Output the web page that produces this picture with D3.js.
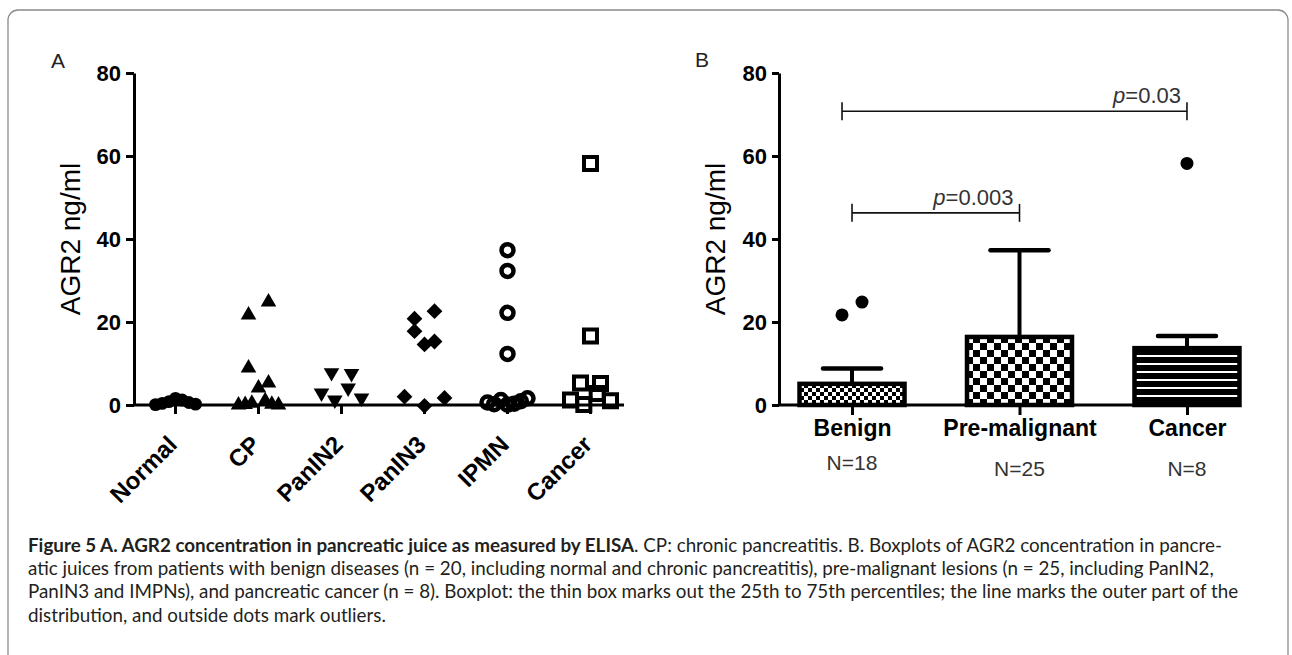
<!DOCTYPE html>
<html>
<head>
<meta charset="utf-8">
<script src="https://cdn.jsdelivr.net/npm/d3@7"></script>
<style>
  body { margin: 0; background: #fff; }
  svg text { font-family: "Liberation Sans", Arial, sans-serif; }
  .axis path, .axis line { stroke: #000; stroke-width: 3; }
  .axis text { fill: #000; font-weight: bold; }
</style>
</head>
<body>
<svg id="fig" width="1292" height="655"></svg>
<script>
// ---- panel A: individual values per group (listed in the order they sit, left to right)
const groupsA = ["Normal", "CP", "PanIN2", "PanIN3", "IPMN", "Cancer"];
const normalVals = [0.1, 0.4, 0.8, 1.6, 1.2, 0.6, 0.2];
const cpVals = [21.7, 24.8, 8.9, 5.3, 0, 0.1, 0.4, 4.1, 1.0, 0.2, 0];
const panin2Vals = [7.8, 7.6, 2.9, 1.2, 4.1, 1.7];
const panin3Vals = [20.8, 22.6, 17.8, 15.3, 14.6, 2.0, -0.2, 1.7];
const ipmnVals = [37.3, 32.3, 22.2, 12.3, 0.6, 0.2, 1.2, 0.1, 0.3, 0.9, 1.6];
const cancerVals = [58.2, 16.6, 5.3, 5.2, 1.2, 0.1, 2.8, 1.0];
const valuesA = [normalVals, cpVals, panin2Vals, panin3Vals, ipmnVals, cancerVals];

// ---- panel B: box summaries
const groupsB = ["Benign", "Pre-malignant", "Cancer"];
const boxLow = [0, 0, 0];
const boxHigh = [5.1, 16.4, 13.7];
const whiskerHigh = [8.8, 37.3, 16.6];
const outliersB = [[21.7, 24.8], [], [58.2]];
const nLabels = ["N=18", "N=25", "N=8"];
const bracketFrom = ["Benign", "Benign"];
const bracketTo = ["Pre-malignant", "Cancer"];
const bracketY = [46.3, 70.8];
const bracketP = ["=0.003", "=0.03"];

const yTicks = [0, 20, 40, 60, 80];

const svg = d3.select("#fig");

// frame
svg.append("rect")
  .attr("x", 8).attr("y", 10)
  .attr("width", 1280).attr("height", 720)
  .attr("rx", 10)
  .attr("fill", "none")
  .attr("stroke", "#8a8a8a")
  .attr("stroke-width", 1.3);

// fill patterns for the boxes
const defs = svg.append("defs");
function checker(id, cell) {
  const p = defs.append("pattern").attr("id", id)
    .attr("patternUnits", "userSpaceOnUse")
    .attr("width", cell * 2).attr("height", cell * 2);
  p.append("rect").attr("width", cell * 2).attr("height", cell * 2).attr("fill", "#000");
  p.append("rect").attr("width", cell).attr("height", cell).attr("fill", "#fff");
  p.append("rect").attr("x", cell).attr("y", cell).attr("width", cell).attr("height", cell).attr("fill", "#fff");
}
checker("pat0", 4);
checker("pat1", 7);
const stripes = defs.append("pattern").attr("id", "pat2")
  .attr("patternUnits", "userSpaceOnUse").attr("width", 8).attr("height", 8);
stripes.append("rect").attr("width", 8).attr("height", 8).attr("fill", "#000");
stripes.append("rect").attr("y", 3).attr("width", 8).attr("height", 2).attr("fill", "#fff");

const y = d3.scaleLinear().domain([0, 80]).range([405, 73]);

function yTitle(x) {
  svg.append("text")
    .attr("transform", `translate(${x},239) rotate(-90)`)
    .attr("text-anchor", "middle")
    .attr("font-size", 28)
    .text("AGR2 ng/ml");
}

// column scatter layout: values binned into rows, each row spread sideways
function spread(vals, binSize, gap, maxWidth) {
  const rows = d3.group(vals, v => Math.floor(Math.max(0, v) / binSize));
  const out = [];
  rows.forEach(row => {
    const n = row.length;
    const s = n > 1 ? Math.min(gap, maxWidth / (n - 1)) : 0;
    row.forEach((v, j) => out.push({ v, dx: (j - (n - 1) / 2) * s, py: y(v) }));
  });
  return out;
}

// ================= panel A =================
const xA = d3.scaleBand().domain(groupsA).range([134, 632]);
const gA = svg.append("g");

svg.append("text").attr("x", 51).attr("y", 68)
  .attr("font-size", 21).attr("fill", "#222").text("A");

const axA = gA.append("g").attr("class", "axis")
  .attr("transform", "translate(0,405)")
  .call(d3.axisBottom(xA).tickSize(9).tickSizeOuter(0));
axA.select(".domain").attr("d", "M134,0H624");
axA.selectAll("text")
  .attr("font-size", 24)
  .attr("text-anchor", "end")
  .attr("x", 3).attr("y", 41).attr("dy", 0)
  .attr("transform", "rotate(-45,3,41)");

gA.append("g").attr("class", "axis")
  .attr("transform", "translate(134,0)")
  .call(d3.axisLeft(y).tickValues(yTicks).tickSize(8).tickPadding(5).tickSizeOuter(0))
  .selectAll("text").attr("font-size", 22);
yTitle(80);

const sym = [
  { type: d3.symbolCircle, size: 130, fill: "#000", stroke: "none", rot: 0 },
  { type: d3.symbolTriangle, size: 105, fill: "#000", stroke: "none", rot: 0 },
  { type: d3.symbolTriangle, size: 105, fill: "#000", stroke: "none", rot: 180 },
  { type: d3.symbolSquare, size: 125, fill: "#000", stroke: "none", rot: 45 },
  { type: d3.symbolCircle, size: 113, fill: "none", stroke: "#000", rot: 0, sw: 4.5 },
  { type: d3.symbolSquare, size: 169, fill: "none", stroke: "#000", rot: 0, sw: 4 }
];

valuesA.forEach((vals, i) => {
  const cx = xA(groupsA[i]) + xA.bandwidth() / 2;
  const s = sym[i];
  gA.append("g").selectAll("path")
    .data(spread(vals, 5, 20, 40))
    .join("path")
    .attr("d", d3.symbol().type(s.type).size(s.size))
    .attr("transform", d => `translate(${cx + d.dx},${d.py}) rotate(${s.rot})`)
    .attr("fill", s.fill)
    .attr("stroke", s.stroke)
    .attr("stroke-width", s.sw || 0);
});

// ================= panel B =================
const xB = d3.scalePoint().domain(groupsB).range([779, 1260]).padding(0.436);
const gB = svg.append("g");

svg.append("text").attr("x", 695).attr("y", 67)
  .attr("font-size", 21).attr("fill", "#222").text("B");

const axB = gB.append("g").attr("class", "axis")
  .attr("transform", "translate(0,405)")
  .call(d3.axisBottom(xB).tickSize(10).tickSizeOuter(0));
axB.select(".domain").attr("d", "M779,0H1240");
axB.selectAll("text").attr("font-size", 23).attr("y", 31).attr("dy", 0);

gB.append("g").attr("class", "axis")
  .attr("transform", "translate(779,0)")
  .call(d3.axisLeft(y).tickValues(yTicks).tickSize(7).tickPadding(5).tickSizeOuter(0))
  .selectAll("text").attr("font-size", 22);
yTitle(725);

gB.selectAll(".nlab")
  .data(nLabels)
  .join("text")
  .attr("class", "nlab")
  .attr("x", (d, i) => xB(groupsB[i]))
  .attr("y", (d, i) => i === 0 ? 470 : 476)
  .attr("text-anchor", "middle")
  .attr("font-size", 21)
  .attr("fill", "#333")
  .text(d => d);

const boxW = 105;
groupsB.forEach((g, i) => {
  const cx = xB(g);
  // whisker
  gB.append("line")
    .attr("x1", cx).attr("x2", cx)
    .attr("y1", y(boxHigh[i])).attr("y2", y(whiskerHigh[i]))
    .attr("stroke", "#000").attr("stroke-width", 4);
  gB.append("line")
    .attr("x1", cx - 29).attr("x2", cx + 29)
    .attr("y1", y(whiskerHigh[i])).attr("y2", y(whiskerHigh[i]))
    .attr("stroke", "#000").attr("stroke-width", 4.5)
    .attr("stroke-linecap", "round");
  // box
  gB.append("rect")
    .attr("x", cx - boxW / 2)
    .attr("y", y(boxHigh[i]))
    .attr("width", boxW)
    .attr("height", y(boxLow[i]) - y(boxHigh[i]))
    .attr("fill", `url(#pat${i})`)
    .attr("stroke", "#000").attr("stroke-width", 4.5);
  // outliers
  const n = outliersB[i].length;
  gB.selectAll(null)
    .data(outliersB[i])
    .join("circle")
    .attr("cx", (d, j) => cx + (j - (n - 1) / 2) * 20)
    .attr("cy", d => y(d))
    .attr("r", 6.5)
    .attr("fill", "#000");
});

// significance brackets
bracketY.forEach((v, i) => {
  const x1 = xB(bracketFrom[i]) - (i === 1 ? 10 : 0);
  const x2 = xB(bracketTo[i]);
  const yy = y(v);
  const b = gB.append("g").attr("stroke", "#111").attr("stroke-width", 1.6);
  b.append("line").attr("x1", x1).attr("x2", x2).attr("y1", yy).attr("y2", yy);
  b.append("line").attr("x1", x1).attr("x2", x1).attr("y1", yy - 9).attr("y2", yy + 9);
  b.append("line").attr("x1", x2).attr("x2", x2).attr("y1", yy - 9).attr("y2", yy + 9);
  const t = gB.append("text")
    .attr("x", x2 - 6).attr("y", yy - 8)
    .attr("text-anchor", "end")
    .attr("font-size", 22)
    .attr("fill", "#333");
  t.append("tspan").attr("font-style", "italic").text("p");
  t.append("tspan").text(bracketP[i]);
});

// ================= caption =================
const capLines = [
  [["Figure 5 A. AGR2 concentration in pancreatic juice as measured by ELISA", true],
   [". CP: chronic pancreatitis. B. Boxplots of AGR2 concentration in pancre-", false]],
  [["atic juices from patients with benign diseases (n = 20, including normal and chronic pancreatitis), pre-malignant lesions (n = 25, including PanIN2,", false]],
  [["PanIN3 and IMPNs), and pancreatic cancer (n = 8). Boxplot: the thin box marks out the 25th to 75th percentiles; the line marks the outer part of the", false]],
  [["distribution, and outside dots mark outliers.", false]]
];
const cap = svg.append("g").attr("fill", "#231f20");
const capTexts = capLines.map((parts, i) => {
  const t = cap.append("text")
    .attr("x", 28).attr("y", 552 + i * 23.2)
    .style("font-family", "Lato, 'Open Sans', sans-serif")
    .attr("font-size", 17);
  parts.forEach(p => t.append("tspan").attr("font-weight", p[1] ? "bold" : "normal").text(p[0]));
  return t;
});
// size the caption so the last line ends where it does in the figure
const fs = 17 * 358 / capTexts[3].node().getComputedTextLength();
capTexts.forEach(t => t.attr("font-size", fs));
capTexts.forEach(t => {
  if (t.node().getComputedTextLength() > 1240) t.attr("textLength", 1240).attr("lengthAdjust", "spacingAndGlyphs");
});
</script>
</body>
</html>
